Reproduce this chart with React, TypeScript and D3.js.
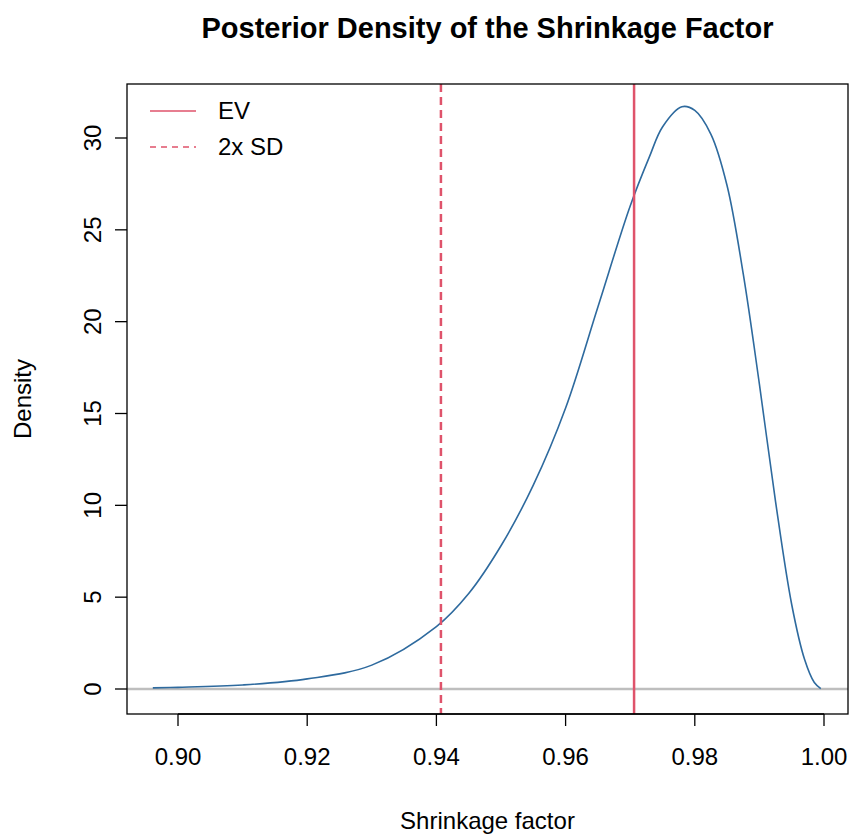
import React from 'react';
import * as d3 from 'd3';

// density curve
const xs = [0.8961, 0.9, 0.91, 0.92, 0.93, 0.94, 0.945, 0.95, 0.955, 0.96, 0.965, 0.97, 0.973, 0.975, 0.978, 0.98, 0.9825, 0.985, 0.9875, 0.99, 0.9925, 0.995, 0.997, 0.9985, 0.9995];
const ys = [0.06, 0.09, 0.22, 0.55, 1.3, 3.4, 5.2, 7.8, 11.1, 15.3, 20.8, 26.3, 29.0, 30.6, 31.7, 31.5, 30.2, 27.4, 22.6, 16.6, 10.2, 4.6, 1.6, 0.35, 0.02];
const ev = 0.9706;
const sd2 = 0.9407;
const xTicks = [0.9, 0.92, 0.94, 0.96, 0.98, 1.0];
const yTicks = [0, 5, 10, 15, 20, 25, 30];

const W = 850, H = 835;
const L = 127, R = 848, T = 84, B = 714;
const RED = '#DF536B';

export default function App() {
  const x = d3.scaleLinear().domain([0.9, 1.0]).range([178, 824]);
  const y = d3.scaleLinear().domain([0, 30]).range([689, 138]);
  const line = d3.line<number>().x((_, i) => x(xs[i])).y((d) => y(d)).curve(d3.curveCatmullRom.alpha(0.5));
  const font = 'Liberation Sans, Arial, sans-serif';
  return (
    <svg width={W} height={H} style={{ position: 'absolute', left: 0, top: 0, background: '#fff' }} fontFamily={font}>
      <text x={(L + R) / 2} y={38} textAnchor="middle" fontWeight="bold" fontSize={29}>Posterior Density of the Shrinkage Factor</text>
      <line x1={L} x2={R} y1={y(0)} y2={y(0)} stroke="#BEBEBE" strokeWidth={2.5} />
      <path d={line(ys) || ''} fill="none" stroke="#2E6A9E" strokeWidth={1.6} />
      <line x1={x(ev)} x2={x(ev)} y1={T} y2={B} stroke={RED} strokeWidth={2.5} />
      <line x1={x(sd2)} x2={x(sd2)} y1={T} y2={B} stroke={RED} strokeWidth={2.5} strokeDasharray="8,5" />
      <rect x={L} y={T} width={R - L} height={B - T} fill="none" stroke="#000" strokeWidth={1.3} />
      {xTicks.map((t) => (
        <g key={t}>
          <line x1={x(t)} x2={x(t)} y1={B} y2={B + 12} stroke="#000" strokeWidth={1.3} />
          <text x={x(t)} y={B + 51} textAnchor="middle" fontSize={24}>{t.toFixed(2)}</text>
        </g>
      ))}
      <line x1={x(0.9)} x2={x(1.0)} y1={B} y2={B} stroke="#000" strokeWidth={1.3} />
      {yTicks.map((t) => (
        <g key={t}>
          <line x1={L - 12} x2={L} y1={y(t)} y2={y(t)} stroke="#000" strokeWidth={1.3} />
          <text transform={`translate(${L - 26},${y(t)}) rotate(-90)`} textAnchor="middle" fontSize={24}>{t}</text>
        </g>
      ))}
      <text x={(L + R) / 2} y={829} textAnchor="middle" fontSize={24}>Shrinkage factor</text>
      <text transform={`translate(31,${(T + B) / 2}) rotate(-90)`} textAnchor="middle" fontSize={24}>Density</text>
      <line x1={150} x2={196} y1={111} y2={111} stroke={RED} strokeWidth={1.6} />
      <text x={218} y={119} fontSize={24}>EV</text>
      <line x1={150} x2={196} y1={147} y2={147} stroke={RED} strokeWidth={1.6} strokeDasharray="6,5" />
      <text x={218} y={155} fontSize={24}>2x SD</text>
    </svg>
  );
}
